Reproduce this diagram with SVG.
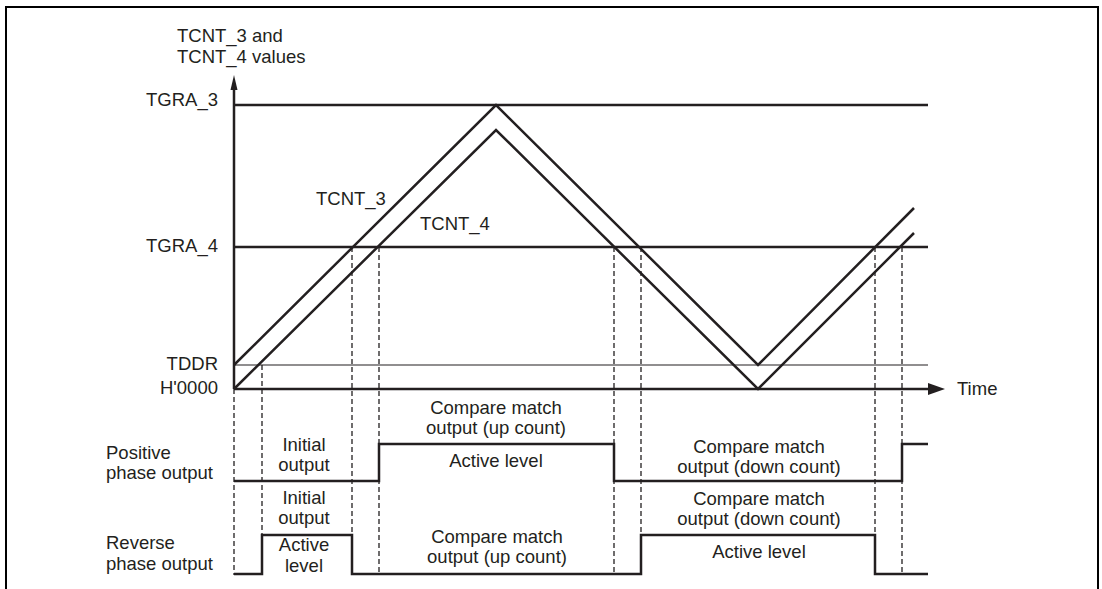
<svg xmlns="http://www.w3.org/2000/svg" width="1102" height="589" viewBox="0 0 1102 589">
<style>
text{font-family:"Liberation Sans",Arial,sans-serif;font-size:18.5px;fill:#231f20}
.m{text-anchor:middle}
.r{text-anchor:end}
.thick{fill:none;stroke:#231f20;stroke-width:2.5}
.thin{fill:none;stroke:#231f20;stroke-width:1.2}
.dash{fill:none;stroke:#231f20;stroke-width:1.3;stroke-dasharray:5 3}
.head{fill:#231f20;stroke:none}
</style>
<rect width="1102" height="589" fill="#fff"/>
<path d="M6,589 V7 H1098 V589" fill="none" stroke="#000" stroke-width="2"/>

<g id="axes">
<path class="thick" d="M234,389 V88" stroke-width="3"/>
<path class="head" d="M234,75 L230.5,90 L237.5,90 Z"/>
<text x="177" y="42">TCNT_3 and</text>
<text x="177" y="63">TCNT_4 values</text>
<path class="thick" d="M234,389 H930"/>
<path class="head" d="M945,389 L928,383 L928,395 Z"/>
<text x="957" y="395">Time</text>
</g>

<g id="levels">
<path class="thick" d="M234,105 H928"/>
<text class="r" x="218" y="106">TGRA_3</text>
<path class="thick" d="M234,247 H928"/>
<text class="r" x="218" y="252">TGRA_4</text>
<path class="thin" d="M234,365 H928"/>
<text class="r" x="218" y="370">TDDR</text>
<text class="r" x="218" y="394">H'0000</text>
</g>

<g id="counters">
<path class="thick" d="M234,365 L496,105 L758,365 L914,208"/>
<path class="thick" d="M234,389 L496,130 L758,389 L914,233"/>
<text x="316" y="205">TCNT_3</text>
<text x="420" y="230">TCNT_4</text>
</g>

<g id="connectors">
<path class="dash" d="M234,389 V575"/>
<path class="dash" d="M262,365 V575"/>
<path class="dash" d="M352,247 V575"/>
<path class="dash" d="M379,247 V575"/>
<path class="dash" d="M614,247 V575"/>
<path class="dash" d="M641,247 V575"/>
<path class="dash" d="M875,247 V575"/>
<path class="dash" d="M902,247 V575"/>
</g>

<g id="positive">
<text x="106" y="459">Positive</text>
<text x="106" y="479">phase output</text>
<path class="thick" stroke-width="2.8" d="M234,481 H379 V444 H614 V481 H902 V444 H928"/>
<text class="m" x="304" y="451">Initial</text>
<text class="m" x="304" y="471">output</text>
<text class="m" x="496" y="414">Compare match</text>
<text class="m" x="496" y="434">output (up count)</text>
<text class="m" x="496" y="467">Active level</text>
<text class="m" x="759" y="453">Compare match</text>
<text class="m" x="759" y="473">output (down count)</text>
</g>

<g id="reverse">
<text x="106" y="549">Reverse</text>
<text x="106" y="570">phase output</text>
<path class="thick" stroke-width="2.8" d="M234,574 H262 V535 H352 V574 H641 V535 H875 V574 H928"/>
<text class="m" x="304" y="504">Initial</text>
<text class="m" x="304" y="524">output</text>
<text class="m" x="304" y="551">Active</text>
<text class="m" x="304" y="572">level</text>
<text class="m" x="497" y="543">Compare match</text>
<text class="m" x="497" y="563">output (up count)</text>
<text class="m" x="759" y="505">Compare match</text>
<text class="m" x="759" y="525">output (down count)</text>
<text class="m" x="759" y="558">Active level</text>
</g>
</svg>
